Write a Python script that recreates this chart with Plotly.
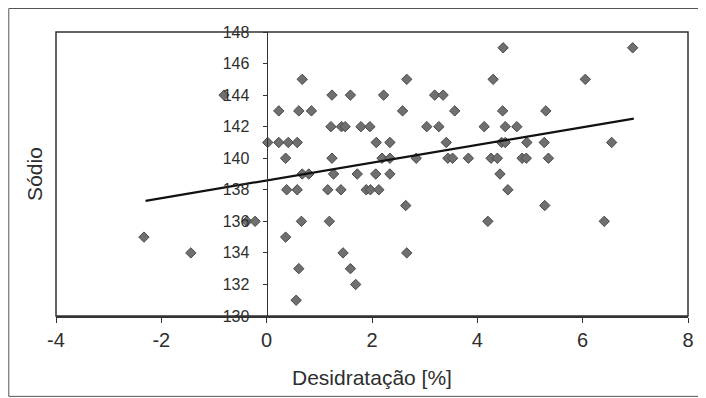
import plotly.graph_objects as go

# Data
dehydration = [
    4.49, 6.95,
    0.675, 2.66, 4.30, 6.05,
    -0.81, 1.24, 1.59, 2.22, 3.19, 3.35,
    0.23, 0.61, 0.85, 2.58, 3.57, 4.48, 5.30,
    1.22, 1.42, 1.49, 1.79, 1.96, 3.04, 3.27, 4.13, 4.53, 4.75,
    0.02, 0.23, 0.41, 0.58, 2.08, 2.34, 3.41, 4.46, 4.53, 4.94, 5.27, 6.55,
    0.36, 1.24, 2.19, 2.34, 2.84, 3.44, 3.53, 3.83, 4.26, 4.38, 4.85, 4.93, 5.35,
    0.675, 0.80, 1.27, 1.72, 2.07, 2.34, 4.43,
    0.38, 0.58, 1.16, 1.41, 1.89, 1.97, 2.13, 4.58,
    2.64, 5.28,
    -0.375, -0.22, 0.66, 1.19, 4.20, 6.41,
    -2.33, 0.36,
    -1.44, 1.45, 2.66,
    0.61, 1.59,
    1.69,
    0.56,
]
sodium = (
    [147] * 2 + [145] * 4 + [144] * 6 + [143] * 7 + [142] * 10 + [141] * 12
    + [140] * 13 + [139] * 7 + [138] * 8 + [137] * 2 + [136] * 6 + [135] * 2
    + [134] * 3 + [133] * 2 + [132] * 1 + [131] * 1
)

trend_x = [-2.30, 6.97]
trend_y = [137.3, 142.51]

x_ticks = [-4, -2, 0, 2, 4, 6, 8]
y_ticks = [130, 132, 134, 136, 138, 140, 142, 144, 146, 148]

x_title = "Desidratação [%]"
y_title = "Sódio"

FONT = "Liberation Sans, Arial, sans-serif"
TXT = "#2e2e2e"

fig = go.Figure()
fig.add_trace(go.Scatter(
    x=dehydration, y=sodium, mode="markers",
    marker=dict(symbol="diamond", size=8, color="#6f6f6f",
                line=dict(color="#4a4a4a", width=1)),
    showlegend=False, hoverinfo="x+y",
))
fig.add_trace(go.Scatter(
    x=trend_x, y=trend_y, mode="lines",
    line=dict(color="#111111", width=2.2),
    showlegend=False,
))

fig.update_layout(
    width=698, height=390,
    margin=dict(l=48, r=14, t=24, b=82),
    paper_bgcolor="white", plot_bgcolor="white",
    font=dict(family=FONT, color=TXT),
    xaxis=dict(
        range=[-4, 8], tickvals=x_ticks, ticktext=[str(v) for v in x_ticks],
        showgrid=False, zeroline=False, showline=True, linecolor="#333333",
        linewidth=1.5, ticks="outside", ticklen=5, tickcolor="#333333",
        tickfont=dict(size=20, family=FONT, color=TXT),
        domain=[0, 1],
    ),
    yaxis=dict(
        range=[130, 148], tickvals=y_ticks, ticktext=[str(v) for v in y_ticks],
        showgrid=False, zeroline=False, showline=True, linecolor="#333333",
        linewidth=1.2, ticks="outside", ticklen=4, tickcolor="#333333",
        anchor="free", position=1 / 3,
        tickfont=dict(size=16, family=FONT, color=TXT),
        ticklabelstandoff=10,
    ),
    shapes=[
        dict(type="rect", xref="x domain", yref="y domain", x0=0, x1=1, y0=0, y1=1,
             line=dict(color="#333333", width=1.5), fillcolor="rgba(0,0,0,0)", layer="above"),
        dict(type="rect", xref="paper", yref="paper", x0=-0.0747, x1=1.0173,
             y0=-0.283, y1=1.0827, line=dict(color="#555555", width=1),
             fillcolor="rgba(0,0,0,0)"),
    ],
    annotations=[
        dict(text=x_title, xref="paper", yref="paper", x=0.5, y=-0.215,
             xanchor="center", yanchor="middle", showarrow=False,
             font=dict(size=21, family=FONT, color=TXT)),
        dict(text=y_title, xref="paper", yref="paper", x=-0.035, y=0.5,
             xanchor="center", yanchor="middle", textangle=-90, showarrow=False,
             font=dict(size=21, family=FONT, color=TXT)),
    ],
)

fig.write_html("out.html")
